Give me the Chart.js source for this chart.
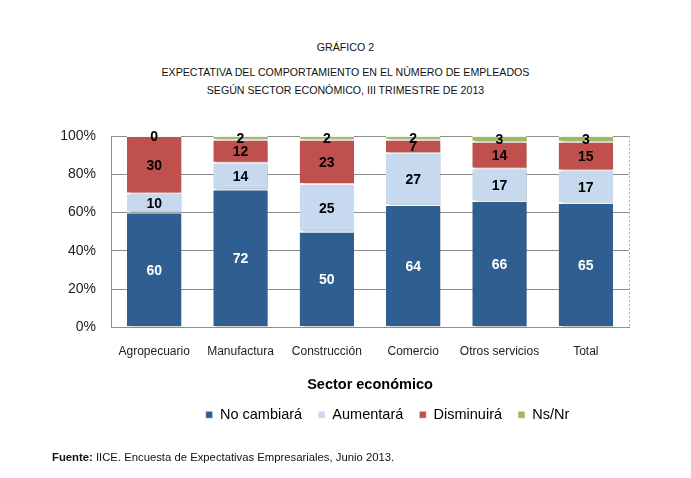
<!DOCTYPE html>
<html>
<head>
<meta charset="utf-8">
<script src="https://cdn.jsdelivr.net/npm/chart.js@4/dist/chart.umd.min.js"></script>
<style>
  body { margin: 0; background: #fff; }
  #wrap { position: relative; width: 691px; height: 478px; font-family: "Liberation Sans", Arial, sans-serif; }
  .ttl { position: absolute; left: 0; width: 691px; text-align: center; font-size: 11px; color: #111; transform: scaleX(0.965); transform-origin: 345px 0; }
  #foot { position: absolute; left: 52px; top: 451px; font-size: 11.3px; color: #111; }
  canvas { position: absolute; left: 0; top: 0; }
</style>
</head>
<body>
<div id="wrap">
  <div class="ttl" style="top:41px">GRÁFICO 2</div>
  <div class="ttl" style="top:66px">EXPECTATIVA DEL COMPORTAMIENTO EN EL NÚMERO DE EMPLEADOS</div>
  <div class="ttl" style="top:84px">SEGÚN SECTOR ECONÓMICO, III TRIMESTRE DE 2013</div>
  <canvas id="chart" width="691" height="478"></canvas>
  <div id="foot"><b>Fuente:</b> IICE. Encuesta de Expectativas Empresariales, Junio 2013.</div>
</div>
<script>
// data
const sectores = ['Agropecuario', 'Manufactura', 'Construcción', 'Comercio', 'Otros servicios', 'Total'];
const noCambiara = [60, 72, 50, 64, 66, 65];
const aumentara = [10, 14, 25, 27, 17, 17];
const disminuira = [30, 12, 23, 7, 14, 15];
const nsNr = [0, 2, 2, 2, 3, 3];
const yTicks = [0, 20, 40, 60, 80, 100];

const labelColors = ['#ffffff', '#000000', '#000000', '#000000'];

// draw values inside each segment
const valueLabels = {
    id: 'valueLabels',
    afterDatasetsDraw(chart) {
        let ctx = chart.ctx;
        ctx.save();
        ctx.font = 'bold 14px "Liberation Sans", Arial, sans-serif';
        ctx.textAlign = 'center';
        ctx.textBaseline = 'middle';
        chart.data.datasets.forEach(function (ds, i) {
            chart.getDatasetMeta(i).data.forEach(function (bar, j) {
                ctx.fillStyle = labelColors[i];
                ctx.fillText(ds.data[j], bar.x, (bar.y + bar.base) / 2 + 1);
            });
        });
        ctx.restore();
    }
};

// shadow under bars + dashed right border, legend nudged right like the original
const plotDecor = {
    id: 'plotDecor',
    afterLayout(chart) {
        chart.legend.left += 53;
        chart.legend.right += 53;
    },
    beforeDatasetsDraw(chart) {
        let ctx = chart.ctx;
        ctx.save();
        ctx.shadowColor = 'rgba(0,0,0,0.35)';
        ctx.shadowBlur = 3;
        ctx.shadowOffsetX = 3;
        ctx.shadowOffsetY = 1;
    },
    afterDatasetsDraw(chart) {
        chart.ctx.restore();
        let a = chart.chartArea, ctx = chart.ctx;
        ctx.save();
        ctx.strokeStyle = '#b0b0b0';
        ctx.setLineDash([2, 2]);
        ctx.lineWidth = 1;
        ctx.beginPath();
        ctx.moveTo(a.right + 0.5, a.top);
        ctx.lineTo(a.right + 0.5, a.bottom);
        ctx.stroke();
        ctx.restore();
    }
};

new Chart(document.getElementById('chart'), {
    type: 'bar',
    data: {
        labels: sectores,
        datasets: [
            { label: 'No cambiará', data: noCambiara, backgroundColor: '#2F5E91' },
            { label: 'Aumentará', data: aumentara, backgroundColor: '#C6D9EE' },
            { label: 'Disminuirá', data: disminuira, backgroundColor: '#C0504D' },
            { label: 'Ns/Nr', data: nsNr, backgroundColor: '#9BBB59' }
        ]
    },
    options: {
        responsive: false,
        animation: false,
        devicePixelRatio: 1,
        datasets: {
            bar: {
                categoryPercentage: 1,
                barPercentage: 0.63,
                borderColor: '#ffffff',
                borderWidth: { top: 1, bottom: 1 },
                borderSkipped: false
            }
        },
        layout: { padding: { top: 136, left: 40, right: 62, bottom: 46 } },
        plugins: {
            tooltip: { enabled: false },
            legend: {
                position: 'bottom',
                labels: {
                    boxWidth: 7,
                    boxHeight: 7,
                    padding: 16,
                    color: '#000',
                    font: { size: 14.5, family: '"Liberation Sans", Arial, sans-serif' }
                }
            }
        },
        scales: {
            x: {
                stacked: true,
                grid: { display: false, drawTicks: false },
                border: { color: '#8c8c8c' },
                ticks: { padding: 17, color: '#222', font: { size: 12, family: '"Liberation Sans", Arial, sans-serif' } },
                title: {
                    display: true,
                    text: 'Sector económico',
                    color: '#000',
                    font: { size: 14.5, weight: 'bold', family: '"Liberation Sans", Arial, sans-serif' },
                    padding: { top: 14, bottom: -2 }
                },
                afterFit(scale) { scale.height = 64; }
            },
            y: {
                stacked: true,
                min: 0,
                max: 100,
                afterBuildTicks(scale) { scale.ticks = yTicks.map(v => ({ value: v })); },
                grid: { color: '#8c8c8c', drawTicks: false },
                border: { color: '#8c8c8c' },
                ticks: {
                    padding: 15,
                    color: '#222',
                    font: { size: 14, family: '"Liberation Sans", Arial, sans-serif' },
                    callback: v => v + '%'
                },
                afterFit(scale) { scale.width = 71; }
            }
        }
    },
    plugins: [plotDecor, valueLabels]
});
</script>
</body>
</html>
